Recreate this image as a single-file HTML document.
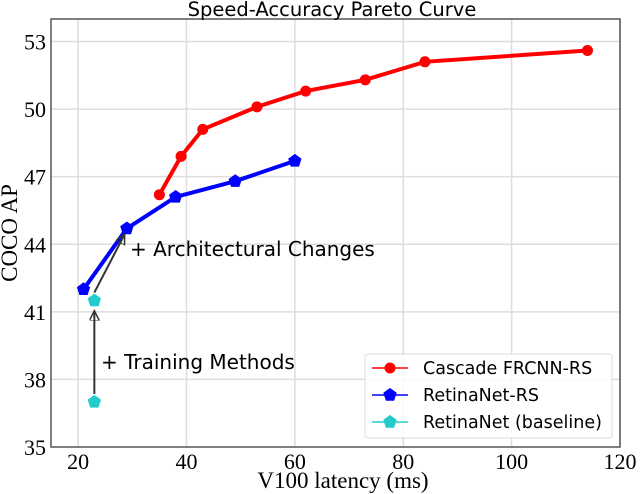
<!DOCTYPE html>
<html><head><meta charset="utf-8"><style>
body{margin:0;background:#fff;}
svg{display:block;}
</style></head><body>
<svg id="chart" width="640" height="494" xmlns="http://www.w3.org/2000/svg">
<defs>
<marker id="ah" markerWidth="12" markerHeight="12" refX="10" refY="5" orient="auto" markerUnits="userSpaceOnUse"><path d="M0,0 L10,5 L0,10 Z" fill="none" stroke="#333" stroke-width="1.5"/></marker>
</defs>
<g id="grid"></g>
<g id="series"></g>
<text x="332" y="16" text-anchor="middle" font-family="DejaVu Sans, sans-serif" font-size="19.5">Speed-Accuracy Pareto Curve</text>
<text x="343" y="488" text-anchor="middle" font-family="Liberation Serif, serif" font-size="23">V100 latency (ms)</text>
<text transform="translate(17,233) rotate(-90)" text-anchor="middle" font-family="Liberation Serif, serif" font-size="23">COCO AP</text>
</svg>
<script>
const xTicks=[20,40,60,80,100,120];
const yTicks=[35,38,41,44,47,50,53];
const cascadeX=[35,39,43,53,62,73,84,114];
const cascadeY=[46.2,47.9,49.1,50.1,50.8,51.3,52.1,52.6];
const retinaRsX=[21,29,38,49,60];
const retinaRsY=[42,44.7,46.1,46.8,47.7];
const baselineX=[23,23];
const baselineY=[37,41.5];
const L=51,R=620,T=19,B=447,X0=15,X1=120,Y0=35,Y1=54;
const sx=v=>L+(v-X0)/(X1-X0)*(R-L);
const sy=v=>B-(v-Y0)/(Y1-Y0)*(B-T);
const NS="http://www.w3.org/2000/svg";
const svg=document.getElementById('chart');
const grid=document.getElementById('grid');
const ser=document.getElementById('series');
function mk(t,a,p){const e=document.createElementNS(NS,t);for(const k in a)e.setAttribute(k,a[k]);(p||svg).appendChild(e);return e;}
xTicks.forEach(v=>{
  const l=mk('line',{x1:sx(v),x2:sx(v),y1:T,y2:B,stroke:'#ddd','stroke-width':1.5},grid);
  
  
  const t=mk('text',{x:sx(v),y:B+22,'text-anchor':'middle','font-family':'Liberation Serif, serif','font-size':22},grid);
  t.textContent=v;
  
  
});
yTicks.forEach(v=>{
  if(v!==Y0){const l=mk('line',{x1:L,x2:R,y1:sy(v),y2:sy(v),stroke:'#ddd','stroke-width':1.5},grid);
  
  }
  const t=mk('text',{x:L-5,y:sy(v)+8,'text-anchor':'end','font-family':'Liberation Serif, serif','font-size':22},grid);
  t.textContent=v;
  
  
});
const fr=mk('rect',{x:L,y:T,width:R-L,height:B-T,fill:'none',stroke:'#555','stroke-width':1.5},grid);


function pent(cx,cy,r){let p=[];for(let i=0;i<5;i++){const a=-Math.PI/2+i*2*Math.PI/5;p.push((cx+r*Math.cos(a)).toFixed(1)+','+(cy+r*Math.sin(a)).toFixed(1));}return p.join(' ');}
function series(xs,ys,color,marker,name,lw){
  const pl=mk('polyline',{points:xs.map((x,i)=>sx(x)+','+sy(ys[i])).join(' '),fill:'none',stroke:color,'stroke-width':lw},ser);
  
  
  xs.forEach((x,i)=>{
    let m;
    if(marker==='c')m=mk('circle',{cx:sx(x),cy:sy(ys[i]),r:5.5,fill:color},ser);
    else m=mk('polygon',{points:pent(sx(x),sy(ys[i]),7),fill:color},ser);
    
    
  });
}
const a1=mk('line',{x1:sx(baselineX[0]),y1:sy(baselineY[0])-8,x2:sx(baselineX[0]),y2:sy(41.05),stroke:'#333','stroke-width':2,'marker-end':'url(#ah)'});


const a2=mk('line',{x1:sx(23),y1:sy(41.5)-8,x2:sx(28.6),y2:sy(44.45),stroke:'#333','stroke-width':2,'marker-end':'url(#ah)'});


series(cascadeX,cascadeY,'#ff0000','c','cascade-frcnn-rs',4);
series(retinaRsX,retinaRsY,'#0000ff','p','retinanet-rs',4);
series(baselineX,baselineY,'#22cccc','p','retinanet-baseline',0);
const t1=mk('text',{x:130,y:256,'font-family':'DejaVu Sans, sans-serif','font-size':20});
t1.textContent='+ Architectural Changes';


const t2=mk('text',{x:101,y:369,'font-family':'DejaVu Sans, sans-serif','font-size':20});
t2.textContent='+ Training Methods';


const lg=mk('g',{});


mk('rect',{x:365,y:354,width:247,height:84,rx:3,fill:'#fff','fill-opacity':0.85,stroke:'#ddd'},lg);
const items=[['Cascade FRCNN-RS','#ff0000','c'],['RetinaNet-RS','#0000ff','p'],['RetinaNet (baseline)','#22cccc','p']];
items.forEach((it,i)=>{
  const y=368+i*27;
  const g=mk('g',{},lg);
  
  
  mk('line',{x1:372,x2:408,y1:y,y2:y,stroke:it[1],'stroke-width':1.5},g);
  if(it[2]==='c')mk('circle',{cx:390,cy:y,r:5.5,fill:it[1]},g);else mk('polygon',{points:pent(390,y,7),fill:it[1]},g);
  const t=mk('text',{x:423,y:y+6,'font-family':'DejaVu Sans, sans-serif','font-size':17.5},g);
  t.textContent=it[0];
});
</script>
</body></html>
